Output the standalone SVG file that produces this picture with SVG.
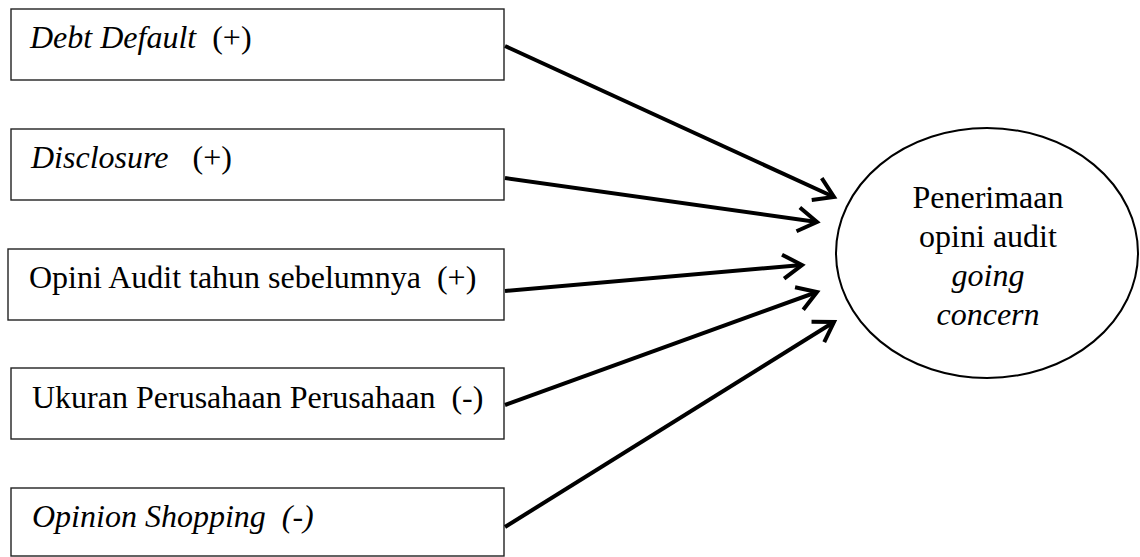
<svg xmlns="http://www.w3.org/2000/svg" width="1140" height="557" viewBox="0 0 1140 557">
<style>
.box{fill:#fff;stroke:#222;stroke-width:1.4}
.conn{fill:none;stroke:#000;stroke-width:4}
</style>
<defs>
<marker id="ah" markerUnits="userSpaceOnUse" markerWidth="40" markerHeight="40" viewBox="-30 -20 40 40" refX="0" refY="0" orient="auto">
<path d="M-19,-12 L0,0 L-19,12" fill="none" stroke="#000" stroke-width="4"/>
</marker>
</defs>
<rect width="1140" height="557" fill="#fff"/>
<g font-family="Liberation Serif, Times New Roman, serif" font-size="32" fill="#000">
<g id="n1"><rect class="box" x="11" y="9" width="493" height="71"/><text x="30" y="48" xml:space="preserve"><tspan font-style="italic">Debt Default</tspan>  (+)</text></g>
<g id="n2"><rect class="box" x="11" y="129" width="493" height="71"/><text x="31" y="168" xml:space="preserve"><tspan font-style="italic">Disclosure</tspan>   (+)</text></g>
<g id="n3"><rect class="box" x="8" y="249" width="496" height="71"/><text x="29" y="288" xml:space="preserve">Opini Audit tahun sebelumnya  (+)</text></g>
<g id="n4"><rect class="box" x="11" y="368" width="493" height="71"/><text x="32" y="408" xml:space="preserve">Ukuran Perusahaan Perusahaan  (-)</text></g>
<g id="n5"><rect class="box" x="11" y="488" width="493" height="68"/><text x="32" y="527" font-style="italic" xml:space="preserve">Opinion Shopping  (-)</text></g>
<g id="target"><ellipse cx="987" cy="253" rx="151" ry="125" fill="#fff" stroke="#000" stroke-width="2"/>
<text x="988" y="208" text-anchor="middle">Penerimaan</text>
<text x="988" y="247" text-anchor="middle">opini audit</text>
<text x="988" y="286" text-anchor="middle" font-style="italic">going</text>
<text x="988" y="325" text-anchor="middle" font-style="italic">concern</text></g>
</g>
<g id="connectors">
<line class="conn" x1="505" y1="46" x2="834" y2="197" marker-end="url(#ah)"/>
<line class="conn" x1="505" y1="178" x2="817" y2="222" marker-end="url(#ah)"/>
<line class="conn" x1="505" y1="291" x2="802" y2="265" marker-end="url(#ah)"/>
<line class="conn" x1="505" y1="405" x2="817" y2="292" marker-end="url(#ah)"/>
<line class="conn" x1="505" y1="527" x2="834" y2="322" marker-end="url(#ah)"/>
</g>
</svg>
